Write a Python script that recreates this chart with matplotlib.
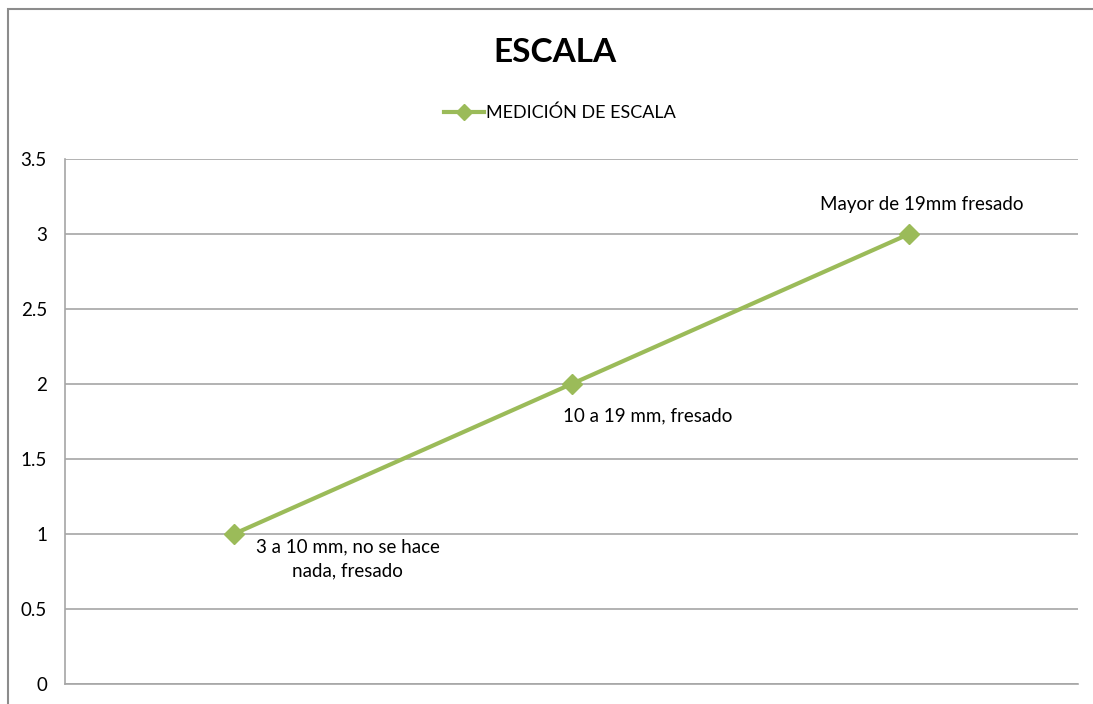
import matplotlib.pyplot as plt
from matplotlib.patches import Rectangle

categories = ['3 a 10 mm, no se hace\nnada, fresado', '10 a 19 mm, fresado', 'Mayor de 19mm fresado']
values = [1, 2, 3]
yticks = [0, 0.5, 1, 1.5, 2, 2.5, 3, 3.5]
ytick_labels = ['0', '0.5', '1', '1.5', '2', '2.5', '3', '3.5']

plt.rcParams['font.family'] = ['Lato', 'DejaVu Sans']
green = '#9BBB59'
grid_col = '#A6A6A6'

fig = plt.figure(figsize=(10.93, 7.04), dpi=100)
fig.patches.append(Rectangle((8 / 1093, -0.1), 1.2, (704 - 9) / 704 + 0.1,
                             transform=fig.transFigure, fill=False,
                             edgecolor='#8C8C8C', linewidth=1.5))

ax = fig.add_axes([65 / 1093, 20 / 704, (1078 - 65) / 1093, (684 - 159) / 704])
x = list(range(len(values)))
ax.plot(x, values, color=green, linewidth=3, marker='D', markersize=10,
        label='MEDICIÓN DE ESCALA', zorder=3)

ax.set_xlim(-0.5, len(values) - 0.5)
ax.set_ylim(0, 3.5)
ax.set_yticks(yticks)
ax.set_yticklabels(ytick_labels, fontsize=13.5)
ax.set_xticks([])
ax.tick_params(axis='y', length=0, pad=13)
ax.yaxis.grid(True, color=grid_col, linewidth=1.2)
for s in ['top', 'right']:
    ax.spines[s].set_visible(False)
for s in ['left', 'bottom']:
    ax.spines[s].set_color(grid_col)
    ax.spines[s].set_linewidth(1.2)

# data labels
ax.annotate(categories[0], (x[0], values[0]), xytext=(82, -3), textcoords='offset points',
            ha='center', va='top', fontsize=13.5, linespacing=1.55)
ax.annotate(categories[1], (x[1], values[1]), xytext=(55, -23), textcoords='offset points',
            ha='center', va='center', fontsize=13.5)
ax.annotate(categories[2], (x[2], values[2]), xytext=(9, 21), textcoords='offset points',
            ha='center', va='center', fontsize=13.5)

fig.text(555 / 1093, 1 - 52 / 704, 'ESCALA', ha='center', va='center',
         fontsize=24, fontweight='bold')
ax.legend(loc='center', bbox_to_anchor=(560 / 1093, 1 - 113 / 704),
          bbox_transform=fig.transFigure, frameon=False, fontsize=13,
          handlelength=2.2, handletextpad=0.1, markerscale=0.8)

fig.savefig('out.png', dpi=100)
